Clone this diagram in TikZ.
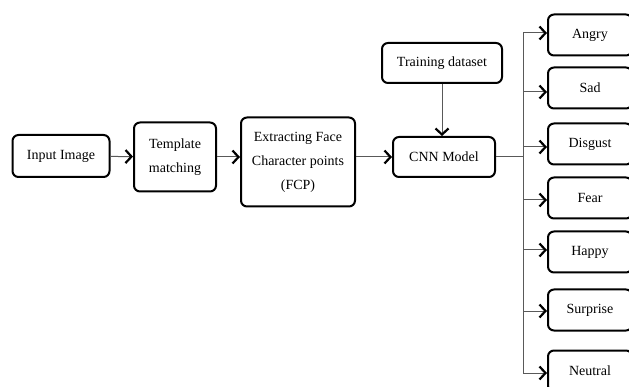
\documentclass[tikz,border=0pt]{standalone}
\usepackage{fontspec}
\setmainfont{Liberation Serif}
\usetikzlibrary{arrows.meta,positioning}
\tikzset{
  box/.style={draw=black,line width=2pt,rounded corners=6pt,fill=white,align=center,
              inner sep=3pt,font=\fontsize{14}{24}\selectfont},
  emo/.style={box,minimum width=84pt,minimum height=41pt},
  arr/.style={-{Straight Barb[length=6pt,width=13pt,line width=2.2pt,color=black]},line width=1pt,draw=black!65},
  wire/.style={line width=1pt,draw=black!65},
}
\begin{document}
\begin{tikzpicture}[x=1pt,y=-1pt]
    \useasboundingbox (0,0) rectangle (629,387);
    \node[box,minimum width=97pt,minimum height=42pt] (img) at (61,156) {Input Image};
    \node[box,minimum width=82pt,minimum height=69pt] (tm) at (175,157) {Template\\matching};
    \node[box,minimum width=114pt,minimum height=89pt] (fcp) at (298,162)
      {Extracting Face\\Character points\\(FCP)};
    \node[box,minimum width=102pt,minimum height=40pt] (cnn) at (444,157) {CNN Model};
    \node[box,minimum width=120pt,minimum height=40pt] (data) at (442,63) {Training dataset};
    \coordinate (bus) at (523,157);
    \foreach \name/\txt/\y/\ay in {angry/Angry/35/33, sad/Sad/88/92, disg/Disgust/144/147,
        fear/Fear/198/200, happy/Happy/252/250, surp/Surprise/310/311, neut/Neutral/371/373}{
      \node[emo] (\name) at (590,\y) {\txt};
      \draw[arr] (bus |- 0,\ay) -- (\name.west |- 0,\ay);
    }
    \draw[arr] (img) -- (tm);
    \draw[arr] (tm) -- (tm -| fcp.west);
    \draw[arr] (fcp.east |- cnn) -- (cnn);
    \draw[arr] (data) -- (data |- cnn.north);
    \draw[wire] (cnn) -- (bus);
    \draw[wire] (bus |- 0,33) -- (bus |- 0,373);
  \end{tikzpicture}
\end{document}
